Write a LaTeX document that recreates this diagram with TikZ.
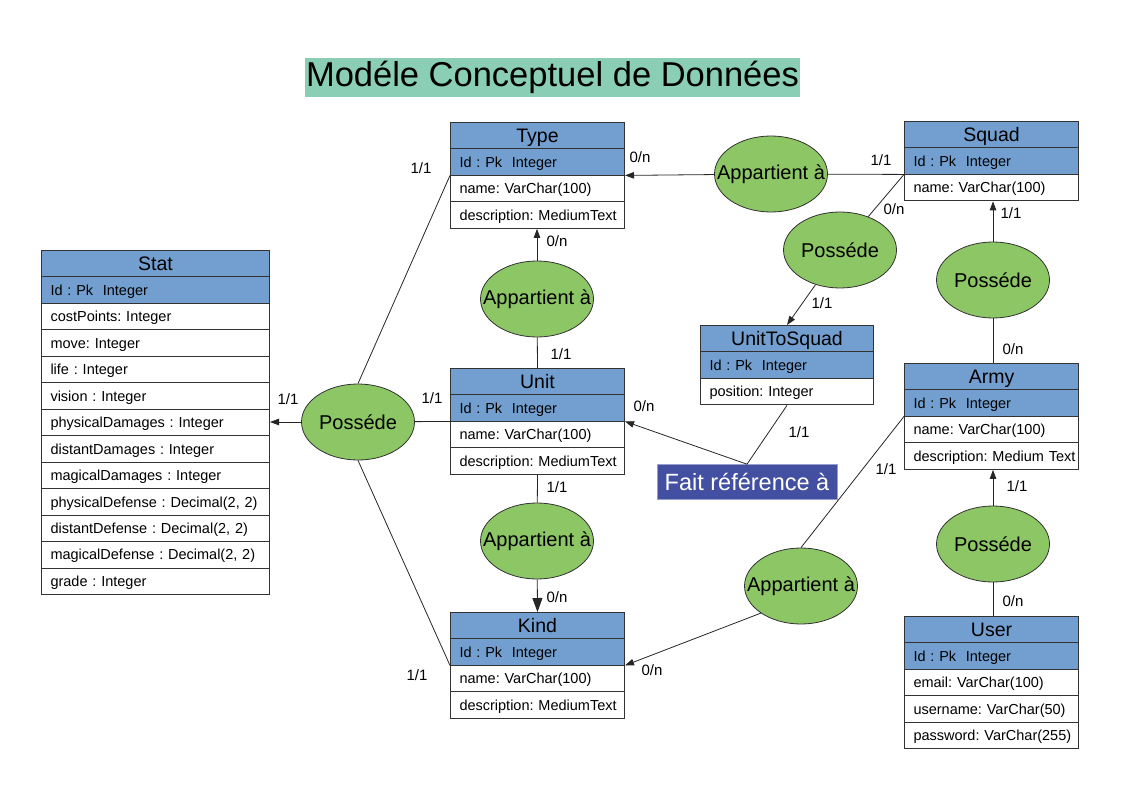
\documentclass[tikz,border=0pt]{standalone}
\usepackage{fontspec}
\setmainfont{Liberation Sans}
\frenchspacing
\usetikzlibrary{shapes.multipart, shapes.geometric, arrows.meta}

\definecolor{hdblue}{HTML}{729FCF}
\definecolor{assocgreen}{HTML}{8CC665}
\definecolor{titlebg}{HTML}{8ACEB5}
\definecolor{refblue}{HTML}{4350A2}

% header row (centered) and plain row of an entity
\newcommand{\hd}[1]{\makebox[\linewidth][c]{\fontsize{19.5}{22}\selectfont\rule[-6.3pt]{0pt}{25.46pt}#1}}
\newcommand{\rw}[1]{\mbox{\rule[-7.6pt]{0pt}{25.46pt}#1}}
% label of an association, kept out of the ellipse size
\newcommand{\asc}[1]{\makebox[0pt][c]{#1}}

\begin{document}
\begin{tikzpicture}[
    x=1pt, y=-1pt,
    entity/.style={
        rectangle split,
        rectangle split parts=#1,
        draw=black!80,
        line width=1pt,
        anchor=north west,
        inner xsep=9pt,
        inner ysep=0pt,
        text width=156pt,
        align=left,
        rectangle split part fill={hdblue, hdblue, white},
        font=\fontsize{14.5}{17}\selectfont
    },
    assoc/.style={
        ellipse,
        draw=black!80,
        line width=0.8pt,
        fill=assocgreen,
        minimum width=113pt,
        minimum height=76pt,
        inner sep=0pt,
        font=\fontsize{20}{24}\selectfont
    },
    refbox/.style={
        rectangle,
        fill=refblue,
        draw=refblue!55!white,
        line width=0.6pt,
        text=white,
        minimum width=180pt,
        minimum height=35pt,
        inner sep=0pt,
        font=\fontsize{23.5}{28}\selectfont
    },
    ln/.style={
        draw=black!85,
        line width=0.8pt
    },
    arr/.style={
        ln,
        -{Triangle[length=9pt,width=6.5pt]}
    },
    bigarr/.style={
        ln,
        -{Triangle[length=14pt,width=10pt]}
    },
    card/.style={
        font=\fontsize{15}{18}\selectfont,
        inner sep=0pt
    }
]

    \useasboundingbox (0,0) rectangle (1123,794);

    % Title
    \node[fill=titlebg, inner xsep=1pt, inner ysep=0pt, minimum height=39pt,
          font=\fontsize{34.5}{40}\selectfont] (title) at (552.5,77.5) {Modéle Conceptuel de Données};

    % Entities
    \node[entity=4] (type) at (450,122) {
        \nodepart{one}\hd{Type}
        \nodepart{two}\rw{Id : Pk\ \ Integer}
        \nodepart{three}\rw{name: VarChar(100)}
        \nodepart{four}\rw{description: MediumText}};

    \node[entity=3] (squad) at (904,121) {
        \nodepart{one}\hd{Squad}
        \nodepart{two}\rw{Id : Pk\ \ Integer}
        \nodepart{three}\rw{name: VarChar(100)}};

    \node[entity=13, text width=210pt] (stat) at (41,250) {
        \nodepart{one}\hd{Stat}
        \nodepart{two}\rw{Id : Pk\ \ Integer}
        \nodepart{three}\rw{costPoints: Integer}
        \nodepart{four}\rw{move: Integer}
        \nodepart{five}\rw{life : Integer}
        \nodepart{six}\rw{vision : Integer}
        \nodepart{seven}\rw{physicalDamages : Integer}
        \nodepart{eight}\rw{distantDamages : Integer}
        \nodepart{nine}\rw{magicalDamages : Integer}
        \nodepart{ten}\rw{physicalDefense : Decimal(2, 2)}
        \nodepart{eleven}\rw{distantDefense : Decimal(2, 2)}
        \nodepart{twelve}\rw{magicalDefense : Decimal(2, 2)}
        \nodepart{thirteen}\rw{grade : Integer}};

    \node[entity=4] (unit) at (450,368) {
        \nodepart{one}\hd{Unit}
        \nodepart{two}\rw{Id : Pk\ \ Integer}
        \nodepart{three}\rw{name: VarChar(100)}
        \nodepart{four}\rw{description: MediumText}};

    \node[entity=3, text width=155pt] (uts) at (700,325) {
        \nodepart{one}\hd{UnitToSquad}
        \nodepart{two}\rw{Id : Pk\ \ Integer}
        \nodepart{three}\rw{position: Integer}};

    \node[entity=4] (army) at (904,363) {
        \nodepart{one}\hd{Army}
        \nodepart{two}\rw{Id : Pk\ \ Integer}
        \nodepart{three}\rw{name: VarChar(100)}
        \nodepart{four}\rw{description: Medium Text}};

    \node[entity=4] (kind) at (450,612) {
        \nodepart{one}\hd{Kind}
        \nodepart{two}\rw{Id : Pk\ \ Integer}
        \nodepart{three}\rw{name: VarChar(100)}
        \nodepart{four}\rw{description: MediumText}};

    \node[entity=5] (user) at (904,616) {
        \nodepart{one}\hd{User}
        \nodepart{two}\rw{Id : Pk\ \ Integer}
        \nodepart{three}\rw{email: VarChar(100)}
        \nodepart{four}\rw{username: VarChar(50)}
        \nodepart{five}\rw{password: VarChar(255)}};

    % Associations
    \node[assoc] (apTop) at (771,174) {\asc{Appartient à}};
    \node[assoc] (posSquad) at (840,250) {\asc{Posséde}};
    \node[assoc] (posArmy) at (993,280) {\asc{Posséde}};
    \node[assoc] (apType) at (537,299) {\asc{Appartient à}};
    \node[assoc] (posStat) at (358,422) {\asc{Posséde}};
    \node[assoc] (apKind) at (537,541) {\asc{Appartient à}};
    \node[assoc] (apArmy) at (801,586) {\asc{Appartient à}};
    \node[assoc] (posUser) at (993,544) {\asc{Posséde}};
    \node[refbox] (fait) at (747,482) {Fait référence à};

    % Links
    \draw[arr] (apTop) -- (type.two split east);
    \draw[ln] (apTop) -- (squad.two split west);
    \draw[ln] (posSquad) -- (squad.two split west);
    \draw[arr] (posSquad) -- (uts.north);
    \draw[arr] (posArmy.north) -- (posArmy.north |- squad.south);
    \draw[ln] (posArmy.south) -- (posArmy.south |- army.north);
    \draw[arr] (apType) -- (apType |- type.south);
    \draw[ln] (apType) -- (unit.north);
    \draw[ln] (posStat.north) -- (type.two split west);
    \draw[ln] (posStat.south) -- (kind.two split west);
    \draw[arr] (posStat) -- (posStat -| stat.east);
    \draw[ln] (posStat) -- (unit.two split west);
    \draw[ln] (unit.south) -- (apKind);
    \draw[bigarr] (apKind) -- (kind.north);
    \draw[ln] (fait.north) -- (uts.south);
    \draw[arr] (fait.north) -- (unit.two split east);
    \draw[ln] (apArmy.north) -- (army.two split west);
    \draw[arr] (apArmy.south west) -- (kind.two split east);
    \draw[arr] (posUser.north) -- (posUser.north |- army.south);
    \draw[ln] (posUser.south) -- (posUser.south |- user.north);

    % Cardinalities
    \node[card] (cTypeTop) at (640,157) {0/n};
    \node[card] (cSquadTop) at (881,160) {1/1};
    \node[card] (cSquadPos) at (894,209) {0/n};
    \node[card] (cUtsPos) at (822,303) {1/1};
    \node[card] (cSquadArmy) at (1011,213) {1/1};
    \node[card] (cArmySquad) at (1013,349) {0/n};
    \node[card] (cTypeUnit) at (557,241) {0/n};
    \node[card] (cUnitType) at (561,354) {1/1};
    \node[card] (cTypeStat) at (421,168) {1/1};
    \node[card] (cStat) at (288,399) {1/1};
    \node[card] (cUnitStat) at (432,398) {1/1};
    \node[card] (cKindStat) at (417,675) {1/1};
    \node[card] (cUnitKind) at (557,487) {1/1};
    \node[card] (cKindUnit) at (557,597) {0/n};
    \node[card] (cUnitRef) at (644,406) {0/n};
    \node[card] (cUtsRef) at (799,432) {1/1};
    \node[card] (cArmyKind) at (886,469) {1/1};
    \node[card] (cKindArmy) at (652,670) {0/n};
    \node[card] (cArmyUser) at (1017,486) {1/1};
    \node[card] (cUserArmy) at (1013,601) {0/n};

\end{tikzpicture}
\end{document}
